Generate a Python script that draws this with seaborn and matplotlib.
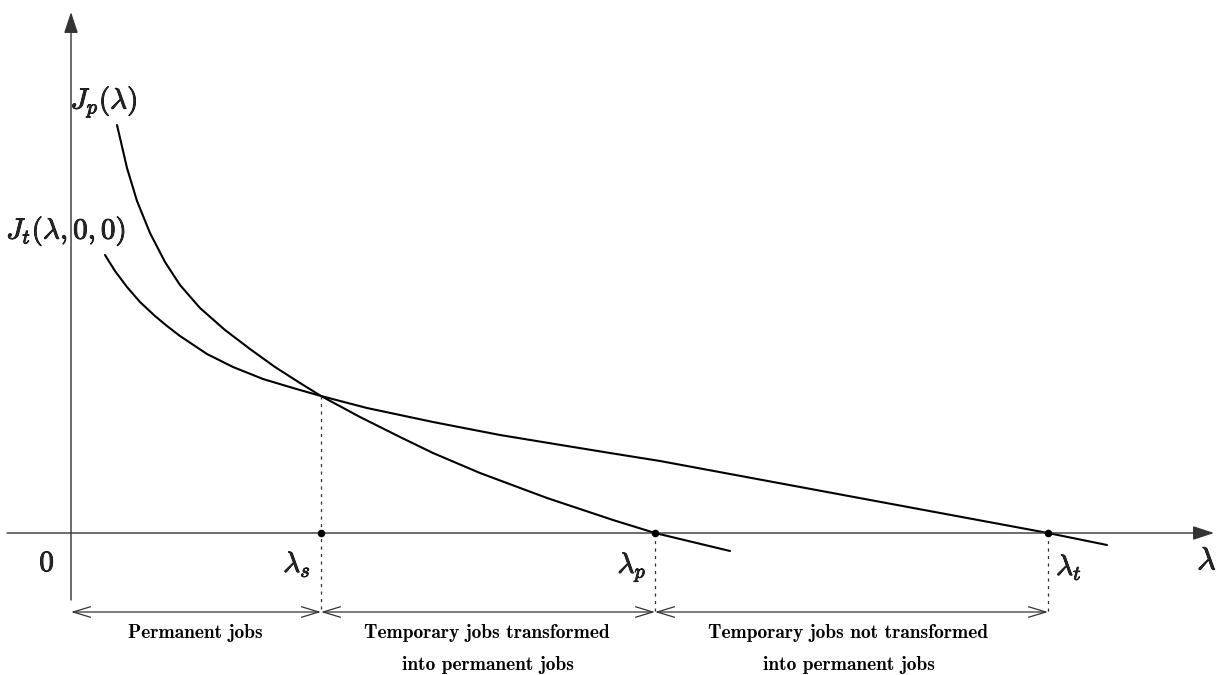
import os
import matplotlib
matplotlib.use("Agg")
import matplotlib.pyplot as plt
import matplotlib.patheffects as pe
from matplotlib.font_manager import FontProperties
import pandas as pd
import seaborn as sns

# Matching-rate axis (lambda) and job-value curves, in diagram units
lam_p = [46, 56, 66, 79, 94, 109, 129, 154, 179, 204, 229, 250, 289, 329,
         362, 409, 476, 542, 584, 659]
J_p = [408, 365, 332, 300, 271, 248, 225, 203, 184, 166, 150, 137, 116, 96,
       80, 60, 35, 13, 0, -18]

lam_t = [34, 44, 56, 69, 84, 96, 109, 136, 162, 192, 222, 250, 296, 362,
         429, 496, 539, 589, 977, 1036]
J_t = [278, 262, 246, 231, 217, 207, 197, 179, 166, 154, 145, 137, 125, 111,
       98, 87, 80, 72, 0, -12]

# Thresholds on the lambda axis
thr_names = [r"$\lambda_s$", r"$\lambda_p$", r"$\lambda_t$"]
thr_vals = [250, 584, 977]
J_cross = 137  # common value of both curves at lambda_s

region_line1 = ["Permanent jobs", "Temporary jobs transformed",
                "Temporary jobs not transformed"]
region_line2 = ["", "into permanent jobs", "into permanent jobs"]

sns.set_theme(style="white")
plt.rcParams["mathtext.fontset"] = "cm"
plt.rcParams["font.family"] = ["DejaVu Serif"]

bold_cm = FontProperties(fname=os.path.join(matplotlib.get_data_path(),
                                            "fonts", "ttf", "cmb10.ttf"),
                         size=14)

fig = plt.figure(figsize=(12.23, 6.75), dpi=100)
ax = fig.add_axes([0, 0, 1, 1])
ax.set_xlim(-71, 1152)
ax.set_ylim(-142, 533)
ax.set_axis_off()

axis_col = "#333333"
# Coordinate axes with filled arrow heads
ax.annotate("", xy=(1143, 0), xytext=(-64, 0),
            arrowprops=dict(arrowstyle="-|>,head_length=1.3,head_width=0.43",
                            mutation_scale=10, lw=1.0, color=axis_col,
                            shrinkA=0, shrinkB=0))
ax.annotate("", xy=(0, 521), xytext=(0, -67),
            arrowprops=dict(arrowstyle="-|>,head_length=1.3,head_width=0.43",
                            mutation_scale=10, lw=1.0, color=axis_col,
                            shrinkA=0, shrinkB=0))

df_p = pd.DataFrame({"lam": lam_p, "J": J_p})
df_t = pd.DataFrame({"lam": lam_t, "J": J_t})
sns.lineplot(data=df_p, x="lam", y="J", ax=ax, color="black", lw=1.5,
             sort=False, estimator=None)
sns.lineplot(data=df_t, x="lam", y="J", ax=ax, color="black", lw=1.5,
             sort=False, estimator=None)

# Dotted guides down to the dimension line
dim_y = -79
tops = [J_cross, 0, 0]
for xv, top in zip(thr_vals, tops):
    ax.plot([xv, xv], [top, dim_y], color=axis_col, lw=0.9,
            dashes=(2.5, 3.5))

sns.scatterplot(x=thr_vals, y=[0, 0, 0], ax=ax, color="black", s=30,
                edgecolor="black", linewidth=0, zorder=5)

# Dimension line split into the three regions
bounds = [0] + thr_vals
for a, b in zip(bounds[:-1], bounds[1:]):
    ax.annotate("", xy=(b, dim_y), xytext=(a, dim_y),
                arrowprops=dict(arrowstyle="<->,head_length=1.25,head_width=0.38",
                                mutation_scale=10, lw=0.9, color=axis_col,
                                shrinkA=0, shrinkB=0))

centers = [124, 416, 777]
for cx, l1, l2 in zip(centers, region_line1, region_line2):
    ax.text(cx, -100, l1, ha="center", va="center", fontproperties=bold_cm,
            color="black")
    if l2:
        ax.text(cx + 1, -132, l2, ha="center", va="center",
                fontproperties=bold_cm, color="black")

# Labels
fs = 21
heavy = [pe.withStroke(linewidth=0.6, foreground="black")]
labels = [
    (33, 431, r"$J_p(\lambda)$", fs),
    (-5, 302, r"$J_t(\lambda,0,0)$", fs),
    (-24, -30, r"$0$", fs),
    (226, -31, thr_names[0], fs),
    (561, -34, thr_names[1], fs),
    (998, -34, thr_names[2], fs),
    (1136, -28, r"$\lambda$", fs + 2),
]
for x, y, s, size in labels:
    ax.text(x, y, s, fontsize=size, ha="center", va="center",
            path_effects=heavy)

fig.savefig("out.png", dpi=100, facecolor="white")
